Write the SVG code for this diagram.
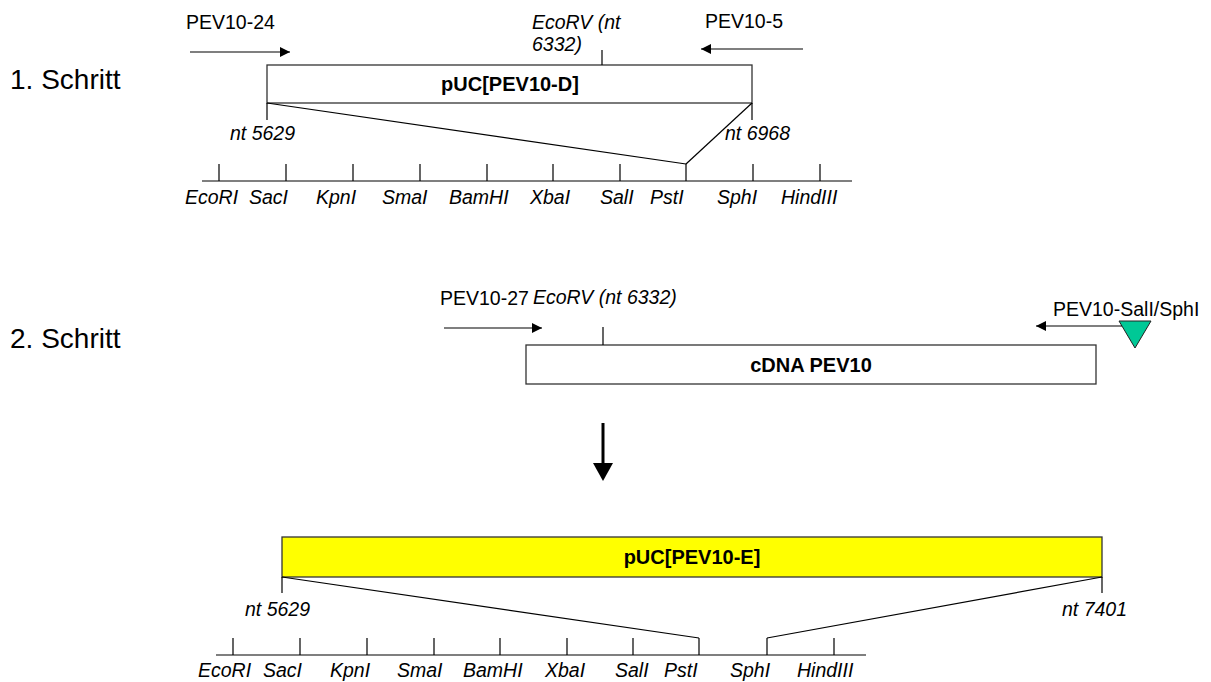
<svg xmlns="http://www.w3.org/2000/svg" width="1211" height="682" viewBox="0 0 1211 682">
<style>
text{font-family:"Liberation Sans",Arial,sans-serif;fill:#000}
.step{font-size:28px}
.pl{font-size:19.5px}
.it{font-size:19.5px;font-style:italic}
.bold{font-size:20px;font-weight:bold}
.ln{stroke:#000;stroke-width:1.2;fill:none}
.box{fill:#fff;stroke:#333;stroke-width:1.3}
</style>
<defs>
<marker id="ah" viewBox="0 0 10 10" refX="10" refY="5" markerWidth="12" markerHeight="10" markerUnits="userSpaceOnUse" orient="auto">
<path d="M0,0 L10,5 L0,10 z" fill="#000"/>
</marker>
</defs>
<rect width="1211" height="682" fill="#fff"/>

<g id="step1-label"><text class="step" x="10" y="89">1. Schritt</text></g>
<g id="step2-label"><text class="step" x="10" y="348">2. Schritt</text></g>

<g id="pev10-24"><text class="pl" x="186" y="29">PEV10-24</text></g>
<g id="pev10-5"><text class="pl" x="705" y="28">PEV10-5</text></g>
<g id="ecorv1"><text class="it" x="532" y="29">EcoRV (nt</text><text class="it" x="532" y="51">6332)</text></g>
<g id="puc-d"><rect class="box" x="267" y="65" width="485" height="38"/><text class="bold" x="510" y="91" text-anchor="middle">pUC[PEV10-D]</text></g>
<g id="nt-labels-1"><text class="it" x="230" y="140">nt 5629</text><text class="it" x="725" y="140">nt 6968</text></g>
<g id="sites1">
<text class="it" x="185" y="204">EcoRI</text><text class="it" x="249" y="204">SacI</text><text class="it" x="316" y="204">KpnI</text><text class="it" x="382" y="204">SmaI</text><text class="it" x="449" y="204">BamHI</text><text class="it" x="530" y="204">XbaI</text><text class="it" x="600" y="204">SalI</text><text class="it" x="650" y="204">PstI</text><text class="it" x="717" y="204">SphI</text><text class="it" x="781" y="204">HindIII</text>
</g>

<g id="pev10-27"><text class="pl" x="440" y="305">PEV10-27</text></g>
<g id="ecorv2"><text class="it" x="533" y="304">EcoRV (nt 6332)</text></g>
<g id="pev10-salsph"><text class="pl" x="1053" y="316">PEV10-SalI/SphI</text><path d="M1119,321 L1151,321 L1135,348 z" fill="#00C896" stroke="#222" stroke-width="1"/></g>
<g id="cdna"><rect class="box" x="526" y="345" width="570" height="39"/><text class="bold" x="811" y="372" text-anchor="middle">cDNA PEV10</text></g>

<g id="puc-e"><rect x="282" y="537" width="820" height="40" fill="#FFFF00" stroke="#333" stroke-width="1.3"/><text class="bold" x="692" y="564" text-anchor="middle">pUC[PEV10-E]</text></g>
<g id="nt-labels-3"><text class="it" x="245" y="616">nt 5629</text><text class="it" x="1062" y="616">nt 7401</text></g>
<g id="sites3">
<text class="it" x="198" y="677">EcoRI</text><text class="it" x="263" y="677">SacI</text><text class="it" x="330" y="677">KpnI</text><text class="it" x="397" y="677">SmaI</text><text class="it" x="463" y="677">BamHI</text><text class="it" x="545" y="677">XbaI</text><text class="it" x="615" y="677">SalI</text><text class="it" x="664" y="677">PstI</text><text class="it" x="730" y="677">SphI</text><text class="it" x="797" y="677">HindIII</text>
</g>

<g id="connectors">
<line class="ln" x1="190" y1="52" x2="290" y2="52" marker-end="url(#ah)"/>
<line class="ln" x1="803" y1="49" x2="701" y2="49" marker-end="url(#ah)"/>
<line class="ln" x1="602" y1="50" x2="602" y2="65"/>
<line class="ln" x1="267" y1="103" x2="267" y2="120"/>
<line class="ln" x1="752" y1="103" x2="752" y2="120"/>
<line class="ln" x1="267" y1="103" x2="686" y2="164"/>
<line class="ln" x1="752" y1="103" x2="686" y2="164"/>
<line class="ln" x1="202" y1="181" x2="852" y2="181"/>
<path class="ln" d="M219,164V181M286,164V181M353,164V181M420,164V181M487,164V181M553,164V181M620,164V181M686,164V181M753,164V181M820,164V181"/>

<line class="ln" x1="444" y1="328" x2="542" y2="328" marker-end="url(#ah)"/>
<line class="ln" x1="1122" y1="326" x2="1036" y2="326" marker-end="url(#ah)"/>
<line class="ln" x1="603" y1="327" x2="603" y2="345"/>

<line x1="603" y1="423" x2="603" y2="466" stroke="#000" stroke-width="3"/>
<path d="M593,463 L613,463 L603,481 z" fill="#000"/>

<line class="ln" x1="282" y1="577" x2="282" y2="593"/>
<line class="ln" x1="1102" y1="577" x2="1102" y2="593"/>
<line class="ln" x1="282" y1="577" x2="699" y2="638"/>
<line class="ln" x1="1102" y1="577" x2="767" y2="638"/>
<line class="ln" x1="216" y1="655" x2="866" y2="655"/>
<path class="ln" d="M233,638V655M300,638V655M367,638V655M434,638V655M500,638V655M567,638V655M633,638V655M699,638V655M767,638V655M834,638V655"/>
</g>
</svg>
